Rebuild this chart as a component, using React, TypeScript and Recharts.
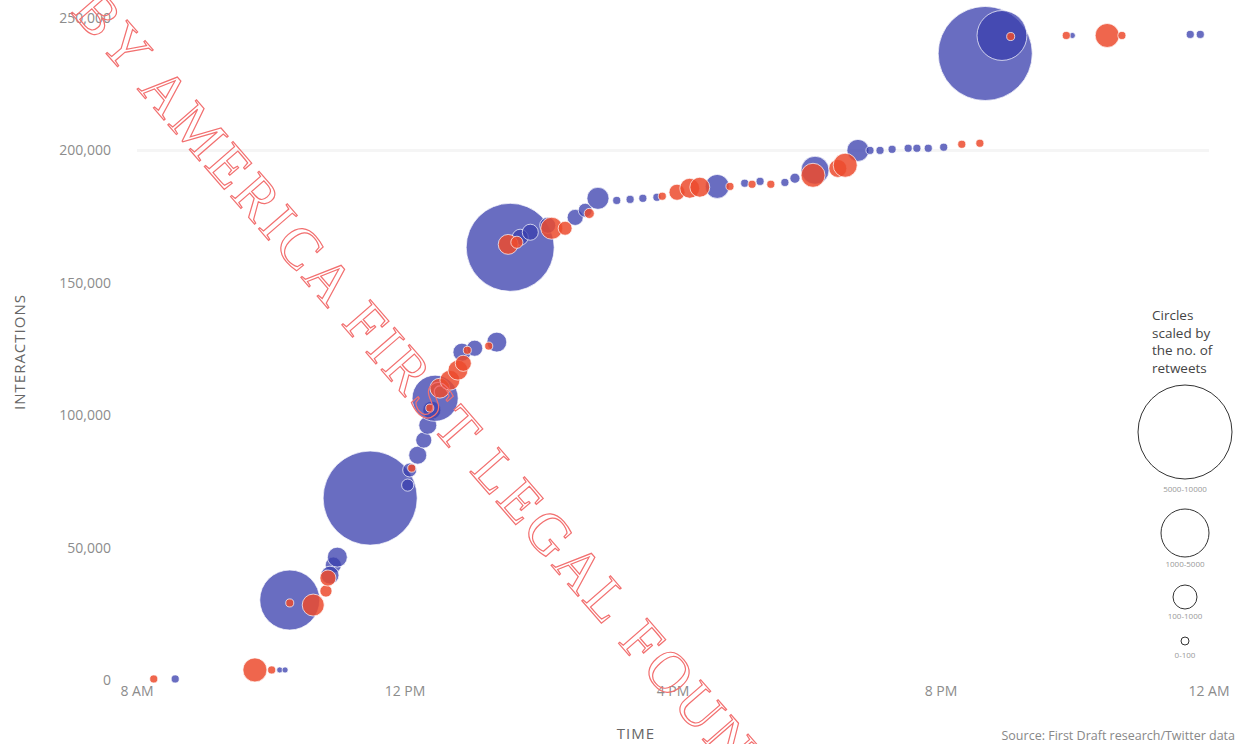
import { ScatterChart, Scatter, XAxis, YAxis, ZAxis, ReferenceLine, Label } from "recharts";

// each tweet: [hour of day, interactions, retweets]
const blueTweets: [number, number, number][] = [
  [8.57, 400, 70], [10.13, 3800, 40], [10.21, 3800, 40], [10.28, 30200, 3900],
  [10.93, 43400, 280], [10.88, 39600, 350], [10.99, 46400, 430], [11.48, 68700, 9600],
  [12.04, 73600, 160], [12.07, 79300, 210], [12.19, 84900, 350], [12.28, 90600, 280],
  [12.34, 96200, 350], [12.4, 101900, 350], [12.45, 106400, 2300], [12.85, 123800, 350],
  [13.04, 125300, 280], [13.37, 127600, 430], [13.57, 163400, 8400], [13.72, 167200, 280],
  [13.87, 169100, 280], [14.13, 171700, 280], [14.54, 174700, 280], [14.69, 177400, 210],
  [14.88, 181900, 525], [15.16, 181100, 70], [15.36, 181500, 70], [15.55, 181900, 70],
  [15.76, 182300, 70], [16.66, 186400, 625], [17.07, 187600, 70], [17.3, 188300, 70],
  [17.67, 187900, 70], [17.82, 189500, 110], [18.12, 192500, 850], [18.76, 200000, 525],
  [18.94, 200000, 70], [19.09, 200000, 70], [19.27, 200400, 70], [19.51, 200800, 70],
  [19.64, 200800, 70], [19.81, 200800, 70], [20.04, 201200, 70], [20.66, 236600, 9600],
  [20.91, 243400, 2700], [21.96, 243400, 40], [23.72, 243800, 70], [23.87, 243800, 70],
];

const redTweets: [number, number, number][] = [
  [8.25, 400, 70], [9.76, 3800, 625], [10.01, 3800, 70], [10.28, 29100, 70],
  [10.63, 28300, 525], [10.82, 33600, 160], [10.85, 38500, 280], [12.1, 80000, 70],
  [12.37, 102700, 70], [12.52, 110200, 430], [12.67, 113200, 430], [12.79, 117000, 430],
  [12.87, 119600, 280], [12.93, 124500, 70], [13.25, 126100, 70], [13.54, 164500, 430],
  [13.67, 165300, 160], [14.19, 170600, 525], [14.39, 170600, 210], [14.75, 176200, 110],
  [15.84, 182700, 70], [16.06, 184200, 280], [16.25, 185700, 430], [16.4, 186100, 430],
  [16.85, 186400, 70], [17.18, 187200, 70], [17.46, 187200, 70], [18.09, 190600, 625],
  [18.46, 193200, 350], [18.57, 194400, 625], [20.31, 202300, 70], [20.58, 202700, 70],
  [21.04, 243000, 70], [21.87, 243400, 70], [22.48, 243400, 625], [22.7, 243400, 70],
];

const timeTicks = [8, 12, 16, 20, 24];
const timeLabels = ["8 AM", "12 PM", "4 PM", "8 PM", "12 AM"];
const interactionTicks = [0, 50000, 100000, 150000, 200000, 250000];
const sizeBins = ["5000-10000", "1000-5000", "100-1000", "0-100"];

const toRows = (list: [number, number, number][]) =>
  list.map(([time, interactions, retweets]) => ({ time, interactions, retweets }));

const FONT = "'Open Sans', sans-serif";

export default function App() {
  const legendCircles = [
    { cy: 432, r: 47, ly: 492 },
    { cy: 533, r: 24, ly: 567 },
    { cy: 597, r: 12, ly: 619 },
    { cy: 641, r: 4, ly: 658 },
  ];

  return (
    <div style={{ position: "absolute", left: 0, top: 0, width: 1241, height: 744, background: "#fff", fontFamily: FONT }}>
      <ScatterChart width={1241} height={744} margin={{ top: 18, right: 32, bottom: 0, left: 0 }}>
        <XAxis
          type="number"
          dataKey="time"
          domain={[8, 24]}
          ticks={timeTicks}
          tickFormatter={(v) => timeLabels[timeTicks.indexOf(v)]}
          axisLine={false}
          tickLine={false}
          tickMargin={0}
          height={64}
          tick={{ fill: "#8c8c8c", fontSize: 14, fontFamily: FONT }}
        >
          <Label
            content={() => (
              <text x={636} y={739} textAnchor="middle" fill="#666" fontSize={15} letterSpacing={1} fontFamily={FONT}>
                TIME
              </text>
            )}
          />
        </XAxis>
        <YAxis
          type="number"
          dataKey="interactions"
          domain={[0, 250000]}
          ticks={interactionTicks}
          tickFormatter={(v) => v.toLocaleString("en-US")}
          axisLine={false}
          tickLine={false}
          tickMargin={20}
          width={137}
          tick={{ fill: "#8c8c8c", fontSize: 14, fontFamily: FONT }}
        >
          <Label
            content={() => (
              <text
                x={25}
                y={352}
                textAnchor="middle"
                transform="rotate(-90 25 352)"
                fill="#666"
                fontSize={15}
                letterSpacing={1}
                fontFamily={FONT}
              >
                INTERACTIONS
              </text>
            )}
          />
        </YAxis>
        <ZAxis type="number" dataKey="retweets" domain={[0, 10000]} range={[0, 7238]} />
        <ReferenceLine y={200000} stroke="#f5f5f5" strokeWidth={3} />
        <Scatter
          data={toRows(blueTweets)}
          fill="#3a3fae"
          fillOpacity={0.76}
          stroke="#ffffff"
          strokeOpacity={0.7}
          strokeWidth={1}
          isAnimationActive={false}
        />
        <Scatter
          data={toRows(redTweets)}
          fill="#ec4b2e"
          fillOpacity={0.85}
          stroke="#ffffff"
          strokeOpacity={0.7}
          strokeWidth={1}
          isAnimationActive={false}
        />
      </ScatterChart>

      <svg width={1241} height={744} style={{ position: "absolute", left: 0, top: 0, pointerEvents: "none" }}>
        <text x={1152} y={320} fontSize={13.5} fill="#444" fontFamily={FONT}>
          <tspan x={1152} dy={0}>Circles</tspan>
          <tspan x={1152} dy={17.5}>scaled by</tspan>
          <tspan x={1152} dy={17.5}>the no. of</tspan>
          <tspan x={1152} dy={17.5}>retweets</tspan>
        </text>
        {legendCircles.map((c, i) => (
          <g key={sizeBins[i]}>
            <circle cx={1185} cy={c.cy} r={c.r} fill="none" stroke="#333" strokeWidth={1} />
            <text x={1185} y={c.ly} textAnchor="middle" fontSize={8} fill="#999" fontFamily={FONT}>
              {sizeBins[i]}
            </text>
          </g>
        ))}
        <text x={1235} y={740} textAnchor="end" fontSize={12.5} fill="#888" fontFamily={FONT}>
          Source: First Draft research/Twitter data
        </text>
        <text
          x={70}
          y={12}
          transform="rotate(49 70 12)"
          fontSize={58}
          letterSpacing={4}
          fontFamily="'Liberation Serif', serif"
          fill="none"
          stroke="#f27070"
          strokeWidth={1.2}
        >
          BY AMERICA FIRST LEGAL FOUNDATION
        </text>
      </svg>
    </div>
  );
}
